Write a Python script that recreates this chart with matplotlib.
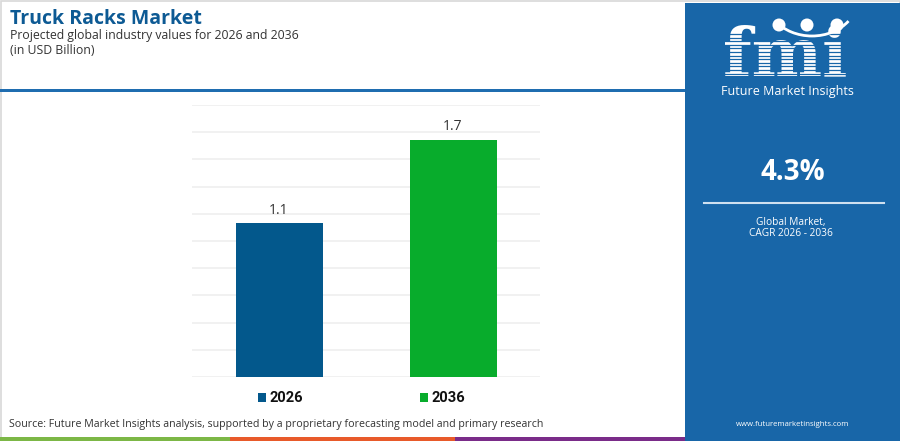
import matplotlib
matplotlib.use("Agg")
import matplotlib.pyplot as plt
from matplotlib.patches import Rectangle, Circle, Arc
import numpy as np

# ---- data ----
years = ["2026", "2036"]
values = [1.1, 1.7]
value_labels = ["1.1", "1.7"]
bar_colors = ["#03588c", "#08ac2c"]
cagr_text = "4.3%"

W, H = 900, 441
fig = plt.figure(figsize=(W / 100, H / 100), dpi=100)
fig.patch.set_facecolor("white")

# background / decoration axes in pixel coordinates
bg = fig.add_axes([0, 0, 1, 1])
bg.set_xlim(0, W)
bg.set_ylim(H, 0)
bg.axis("off")

# light border
bg.add_patch(Rectangle((0.5, 0.5), W - 1, H - 1, fill=False, ec="#d8d8d8", lw=1.2))

# header underline
bg.add_patch(Rectangle((0, 89), 685, 3, fc="#1f6db0", ec="none"))

# right panel
panel_c = "#1866a8"
bg.add_patch(Rectangle((685, 3), W - 685, H - 3, fc=panel_c, ec="none"))

# bottom strip
bg.add_patch(Rectangle((0, 437), 230, 4, fc="#7cb746", ec="none"))
bg.add_patch(Rectangle((230, 437), 225, 4, fc="#e85a2a", ec="none"))
bg.add_patch(Rectangle((455, 437), 230, 4, fc="#7a2c89", ec="none"))

# titles
bg.text(10, 18.5, "Truck Racks Market", fontsize=14, fontweight="bold",
        color="#0d5a94", family="Open Sans", va="center", ha="left")
bg.text(10, 35, "Projected global industry values for 2026 and 2036", fontsize=8.8,
        color="#333333", family="Open Sans", va="center", ha="left")
bg.text(10, 51, "(in USD Billion)", fontsize=8.8,
        color="#333333", family="Open Sans", va="center", ha="left")

# logo
bg.text(785, 75, "fmi", fontsize=48, fontweight="bold", family="DejaVu Serif",
        color="white", va="baseline", ha="center", zorder=3)
for yy in np.arange(34, 78, 3.6):
    bg.plot([715, 860], [yy, yy], color=panel_c, lw=0.9, zorder=4)
for cx in (779, 807, 837):
    bg.add_patch(Circle((cx, 25), 6.5, fc="white", ec="none", zorder=5))
bg.add_patch(Arc((812, 0), 90, 72, theta1=30, theta2=150, color="white", lw=2, zorder=5))
bg.text(787, 92, "Future Market Insights", fontsize=9, color="white",
        family="Open Sans", va="center", ha="center")

# CAGR
bg.text(793, 172, cagr_text, fontsize=20, fontweight="bold", color="white",
        family="Open Sans", va="center", ha="center")
bg.plot([704, 884], [203, 203], color="#cfe0f0", lw=1.5)
bg.text(791, 222, "Global Market,", fontsize=7.3, color="white",
        family="Open Sans", va="center", ha="center")
bg.text(791, 234, "CAGR 2026 - 2036", fontsize=7.3, color="white",
        family="Open Sans", va="center", ha="center")
bg.text(793, 425, "www.futuremarketinsights.com", fontsize=5.6, color="white",
        family="Open Sans", va="center", ha="center")

# source
bg.text(9, 425, "Source: Future Market Insights analysis, supported by a proprietary forecasting model and primary research",
        fontsize=7.7, color="#333333", family="Open Sans", va="center", ha="left")

# ---- chart axes ----
ax = fig.add_axes([192 / W, (H - 377) / H, 348 / W, 272 / H])
ax.set_facecolor("none")
ymax = 1.947
ax.set_xlim(-0.5, 1.5)
ax.set_ylim(0, ymax)
for g in np.linspace(0, ymax, 11):
    ax.axhline(g, color="#efefef", lw=1.2, zorder=0)
x = np.arange(len(years))
bars = ax.bar(x, values, width=0.5, color=bar_colors, zorder=2)
for xi, v, lab in zip(x, values, value_labels):
    ax.annotate(lab, (xi, v), xytext=(0, 4), textcoords="offset points",
                ha="center", va="bottom", fontsize=10, color="#333333", family="Open Sans")
ax.axis("off")

# legend
leg_x = [258, 420]
for lx, yr, c in zip(leg_x, years, bar_colors):
    bg.add_patch(Rectangle((lx, 393), 8, 9, fc=c, ec="none"))
    bg.text(lx + 11, 397.5, yr, fontsize=10.5, fontweight="bold", color="#111111",
            family="Roboto", va="center", ha="left")

fig.savefig("out.png", dpi=100, facecolor="white")
